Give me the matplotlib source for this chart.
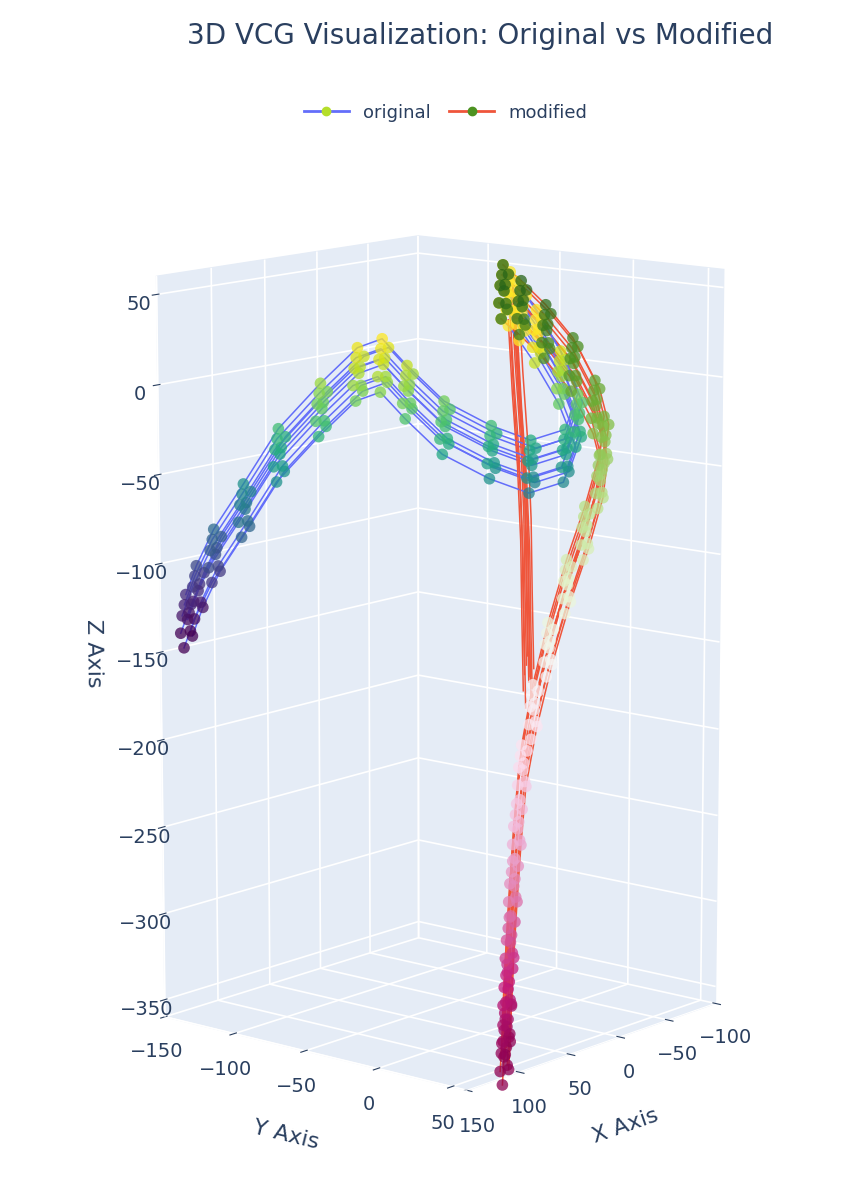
import numpy as np
import matplotlib.pyplot as plt
from matplotlib.lines import Line2D

# waypoints (x, y, z) for one beat
orig_x = [0, -10, -25, -45, -65, -75, -70, -50, -25, 0, 15, 25, 35, 50, 70, 90, 105, 115, 125]
orig_y = [-20, -22, -25, -28, -25, -20, -25, -35, -45, -60, -75, -85, -95, -110, -125, -135, -145, -150, -150]
orig_z = [50, 45, 35, 20, -5, -30, -50, -55, -45, -30, -10, 5, 0, -20, -45, -75, -100, -120, -135]

mod_x = [0, -15, -35, -55, -70, -72, -60, -35, -5, 25, 50, 68, 80, 88, 94, 99, 103, 106]
mod_y = [-20, -18, -15, -10, -5, 0, 5, 12, 20, 28, 35, 40, 45, 48, 50, 52, 54, 55]
mod_z = [50, 40, 25, 5, -20, -40, -60, -85, -110, -140, -170, -200, -230, -260, -290, -315, -335, -350]

# nearly vertical return stroke of the modified loop
spike_x = [5, 8, 10, 14, 20, 30]
spike_y = [-10, -5, 0, 5, 10, 18]
spike_z = [40, 0, -40, -80, -120, -160]

# beat-to-beat shifts (x, z)
beat_dx = [0, 8, -7, 14, -12, 4, 18, -16, 10, -4]
beat_dz = [0, 10, -8, 5, -12, 15, -4, 7, -14, 3]

BG = '#e5ecf6'
TXT = '#2a3f5f'

fig = plt.figure(figsize=(8.57, 12), dpi=100)
ax = fig.add_axes([-0.06, -0.04, 1.12, 0.98], projection='3d')

for dx, dz in zip(beat_dx, beat_dz):
    ox = np.array(orig_x) + dx
    oy = np.array(orig_y) + dx * 0.5
    oz = np.array(orig_z) + dz
    ax.plot(ox, oy, oz, color='#636efa', lw=1.1)
    ax.scatter(ox, oy, oz, c=oz, cmap='viridis', vmin=-140, vmax=20, s=70, alpha=0.75,
               depthshade=False, edgecolors='none')
    mx = np.array(mod_x) + dx
    my = np.array(mod_y) + dx * 0.5
    mz = np.array(mod_z) + dz
    ax.plot(mx, my, mz, color='#ef553b', lw=1.1)
    ax.scatter(mx, my, mz, c=mz, cmap='PiYG', vmin=-350, vmax=50, s=70, alpha=0.75,
               depthshade=False, edgecolors='none')
    ax.plot(np.array(spike_x) + dx * 0.3, spike_y, np.array(spike_z) + dz, color='#ef553b', lw=1.1)

ax.set_xlim(-100, 150)
ax.set_ylim(-150, 60)
ax.set_zlim(-360, 60)
ax.set_xticks([-100, -50, 0, 50, 100, 150])
ax.set_yticks([-150, -100, -50, 0, 50])
ax.set_zticks([-350, -300, -250, -200, -150, -100, -50, 0, 50])
ax.set_box_aspect((1, 1, 1.9), zoom=0.95)
ax.view_init(elev=12, azim=40)

for a in (ax.xaxis, ax.yaxis, ax.zaxis):
    a.set_pane_color(BG)
    a._axinfo['grid']['color'] = 'white'
    a._axinfo['grid']['linewidth'] = 1.2
    a.line.set_color('white')
ax.tick_params(colors=TXT, labelsize=14)
ax.set_xlabel('X Axis', fontsize=16, color=TXT, labelpad=15)
ax.set_ylabel('Y Axis', fontsize=16, color=TXT, labelpad=15)
ax.set_zlabel('Z Axis', fontsize=16, color=TXT, labelpad=22)

fig.text(0.56, 0.97, '3D VCG Visualization: Original vs Modified', ha='center', va='center',
         fontsize=20, color=TXT)
handles = [Line2D([0], [0], color='#636efa', marker='o', markerfacecolor='#b5de2b', markeredgecolor='#b5de2b', lw=2, markersize=6),
           Line2D([0], [0], color='#ef553b', marker='o', markerfacecolor='#4d9221', markeredgecolor='#4d9221', lw=2, markersize=6)]
fig.legend(handles, ['original', 'modified'], loc='center', bbox_to_anchor=(0.52, 0.906), ncol=2,
           frameon=False, fontsize=13, labelcolor=TXT, handlelength=2.5, columnspacing=1.0)

fig.savefig('out.png', dpi=100)
